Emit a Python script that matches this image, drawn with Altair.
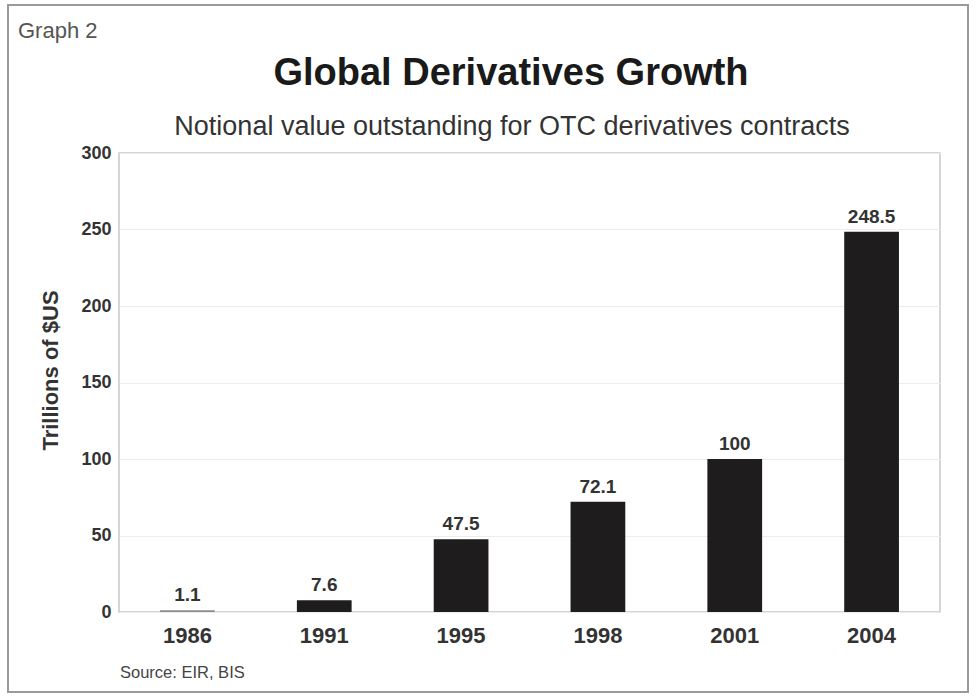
import altair as alt
import pandas as pd

years = ["1986", "1991", "1995", "1998", "2001", "2004"]
values = [1.1, 7.6, 47.5, 72.1, 100, 248.5]
value_labels = ["1.1", "7.6", "47.5", "72.1", "100", "248.5"]
bar_colors = ["#8c8c8c", "#1e1c1c", "#1e1c1c", "#1e1c1c", "#1e1c1c", "#1e1c1c"]
y_ticks = [0, 50, 100, 150, 200, 250, 300]

FONT = "Liberation Sans"
W, H = 821, 459
PAD = {"left": 119, "top": 153, "right": 37, "bottom": 85}

df = pd.DataFrame({"year": years, "value": values, "label": value_labels, "color": bar_colors})

x_enc = alt.X(
    "year:N", sort=years,
    scale=alt.Scale(paddingInner=0.6, paddingOuter=0.3),
    axis=alt.Axis(title=None, labelAngle=0, labelFont=FONT, labelFontSize=22,
                  labelFontWeight="bold", labelColor="#333333", labelPadding=13,
                  ticks=False, domain=False, grid=False),
)
y_enc = alt.Y(
    "value:Q",
    scale=alt.Scale(domain=[0, 300], nice=False),
    axis=alt.Axis(title="Trillions of $US", values=y_ticks, titleFont=FONT, titleFontSize=22,
                  titleFontWeight="bold", titleColor="#333333",
                  titleAngle=270, titleAlign="center", titleBaseline="middle",
                  titleX=-69, titleY=217,
                  labelFont=FONT, labelFontSize=18, labelFontWeight="bold",
                  labelColor="#333333", labelPadding=8, ticks=False, domain=False,
                  grid=True, gridColor="#ececec", gridWidth=1),
)

base = alt.Chart(df)
bars = base.mark_bar().encode(x=x_enc, y=y_enc, color=alt.Color("color:N", scale=None))
texts = base.mark_text(dy=-9, baseline="alphabetic", font=FONT, fontSize=19,
                       fontWeight="bold", color="#333333").encode(
    x=alt.X("year:N", sort=years), y="value:Q", text="label:N")


def deco(txt, x, y, size, weight="normal", color="#222222", align="center"):
    return alt.Chart(pd.DataFrame({"t": [txt]})).mark_text(
        font=FONT, fontSize=size, fontWeight=weight, color=color, align=align,
        baseline="alphabetic").encode(x=alt.value(x), y=alt.value(y), text="t:N")


frame = alt.Chart(pd.DataFrame({"a": [0]})).mark_rect(
    filled=False, stroke="#9a9a9a", strokeWidth=2).encode(
    x=alt.value(-111), x2=alt.value(849), y=alt.value(-148), y2=alt.value(539))

title = deco("Global Derivatives Growth", 392, -68, 38, "bold", "#1a1a1a")
subtitle = deco("Notional value outstanding for OTC derivatives contracts", 393, -18, 27, "normal", "#333333")
graph2 = deco("Graph 2", -101, -115, 22, "normal", "#555555", "left")
source = deco("Source: EIR, BIS", 1, 525, 16.5, "normal", "#444444", "left")

chart = alt.layer(frame, bars, texts, title, subtitle, graph2, source).properties(
    width=W, height=H, padding=PAD, autosize="none", background="white"
).configure_view(stroke="#c8c8c8", strokeWidth=1.5)

chart.save("out.html", embed_options={"renderer": "svg", "actions": False})
